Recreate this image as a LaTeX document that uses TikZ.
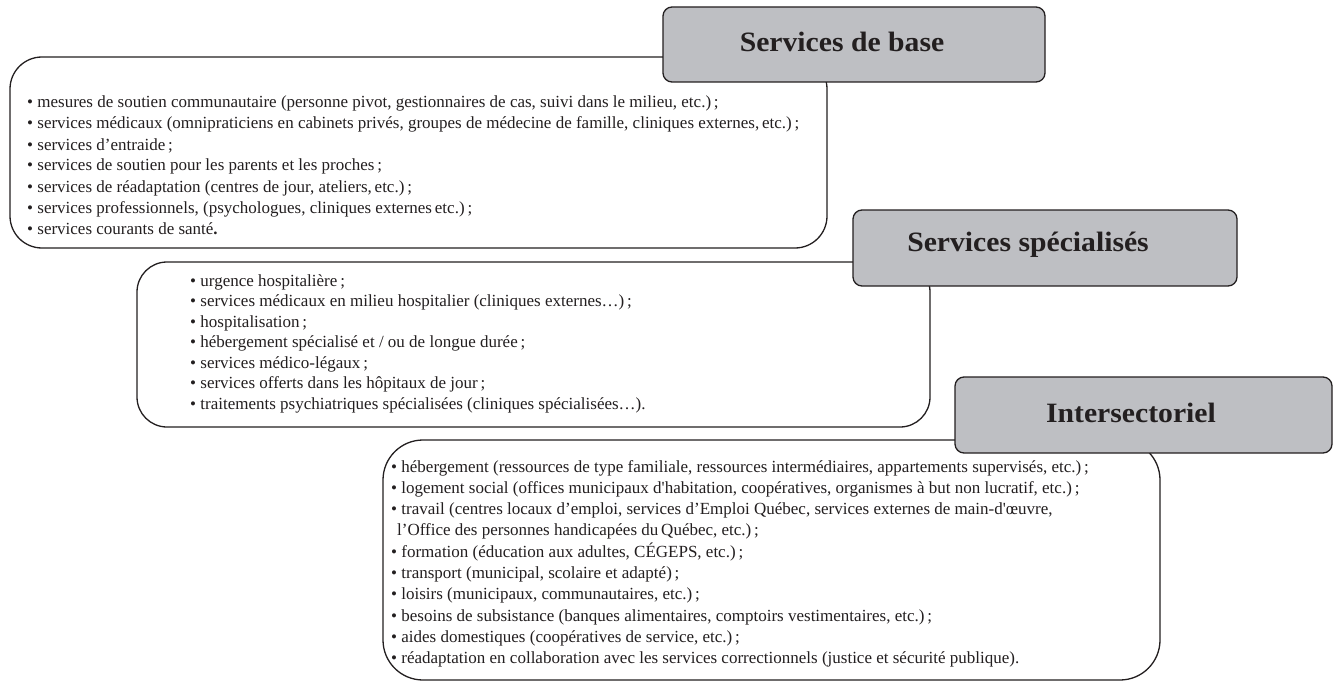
\documentclass[tikz,border=0pt]{standalone}
\usepackage{fontspec}
\setmainfont{Liberation Serif}
\newfontfamily\hdfont[FakeStretch=1.06]{Liberation Serif}
\definecolor{ink}{HTML}{231F20}
\definecolor{hdrgray}{HTML}{BEBFC3}
\begin{document}
\begin{tikzpicture}[x=1pt,y=-1pt,line join=round,
  cbox/.style={draw=ink,line width=1.3pt,fill=white},
  hbox/.style={draw=ink,line width=1.3pt,fill=hdrgray,rounded corners=9pt,inner sep=0pt},
  htext/.style={font=\hdfont\fontsize{28}{30}\selectfont\bfseries,text=ink,inner sep=0pt},
  bline/.style={font=\fontsize{17}{21}\selectfont,text=ink,inner sep=0pt,anchor=base west}]
\useasboundingbox (0,0) rectangle (1333,682);
% ---- Services de base
\draw[cbox,rounded corners=32pt] (10,57) rectangle (827,248);
\node[hbox,minimum width=382pt,minimum height=75pt] (h1) at (854,44.5) {};
\node[htext] (h1t) at (842,42) {Services de base};
\foreach \t [count=\i] in {
  {• mesures de soutien communautaire (personne pivot, gestionnaires de cas, suivi dans le milieu, etc.)\,;},
  {• services médicaux (omnipraticiens en cabinets privés, groupes de médecine de famille, cliniques externes,\,etc.)\,;},
  {• services d’entraide\,;},
  {• services de soutien pour les parents et les proches\,;},
  {• services de réadaptation (centres de jour, ateliers,\,etc.)\,;},
  {• services professionnels, (psychologues, cliniques externes\,etc.)\,;},
  {• services courants de santé\textbf{.}}}
  \node[bline] (ba\i) at (27,{108+21*(\i-1)}) {\t};
% ---- Services spécialisés
\draw[cbox,rounded corners=30pt] (137,262) rectangle (930,427);
\node[hbox,minimum width=384pt,minimum height=76pt] (h2) at (1045,248) {};
\node[htext] (h2t) at (1028,245) {Services spécialisés};
\foreach \t [count=\i] in {
  {• urgence hospitalière\,;},
  {• services médicaux en milieu hospitalier (cliniques externes…)\,;},
  {• hospitalisation\,;},
  {• hébergement spécialisé et / ou de longue durée\,;},
  {• services médico-légaux\,;},
  {• services offerts dans les hôpitaux de jour\,;},
  {• traitements psychiatriques spécialisées (cliniques spécialisées…).}}
  \node[bline] (bb\i) at (190,{286+20.5*(\i-1)}) {\t};
% ---- Intersectoriel
\draw[cbox,rounded corners=40pt] (383,440) rectangle (1160,680);
\node[hbox,minimum width=377pt,minimum height=76pt] (h3) at (1143.5,415) {};
\node[htext] (h3t) at (1131,413) {Intersectoriel};
\foreach \t [count=\i] in {
  {• hébergement (ressources de type familiale, ressources intermédiaires, appartements supervisés, etc.)\,;},
  {• logement social (offices municipaux d\textquotesingle habitation, coopératives, organismes à but non lucratif, etc.)\,;},
  {• travail (centres locaux d’emploi, services d’Emploi Québec, services externes de main-d\textquotesingle œuvre,},
  {\hspace*{6pt}l’Office des personnes handicapées du\,Québec, etc.)\,;},
  {• formation (éducation aux adultes, CÉGEPS, etc.)\,;},
  {• transport (municipal, scolaire et adapté)\,;},
  {• loisirs (municipaux, communautaires, etc.)\,;},
  {• besoins de subsistance (banques alimentaires, comptoirs vestimentaires, etc.)\,;},
  {• aides domestiques (coopératives de service, etc.)\,;},
  {• réadaptation en collaboration avec les services correctionnels (justice et sécurité publique).}}
  \node[bline] (bc\i) at (391,{472+21.3*(\i-1)}) {\t};
\end{tikzpicture}
\end{document}
